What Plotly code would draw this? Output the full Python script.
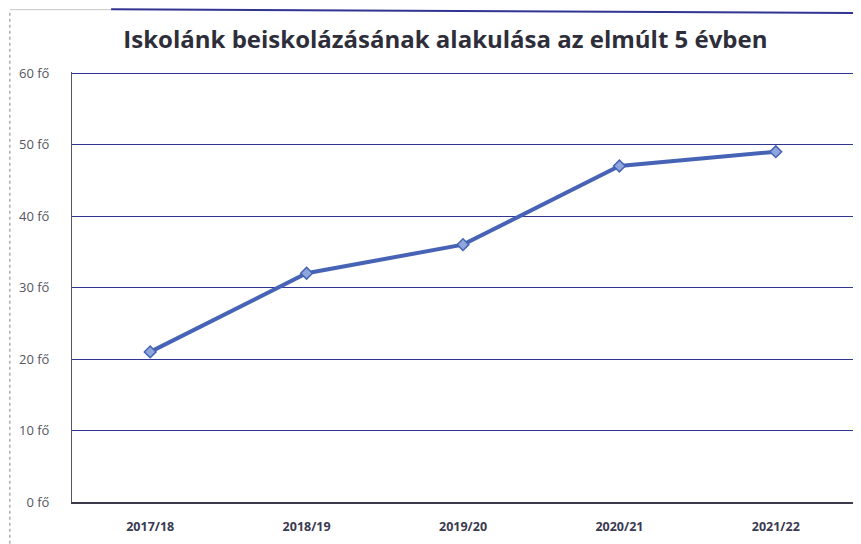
import plotly.graph_objects as go

categories = ["2017/18", "2018/19", "2019/20", "2020/21", "2021/22"]
values = [21, 32, 36, 47, 49]
y_ticks = [0, 10, 20, 30, 40, 50, 60]
y_tick_labels = [f"{v} fő" for v in y_ticks]
title_text = "Iskolánk beiskolázásának alakulása az elmúlt 5 évben"

fig = go.Figure()
fig.add_trace(go.Scatter(
    x=categories, y=values, mode="lines+markers",
    line=dict(color="#4763b5", width=4),
    marker=dict(symbol="diamond", size=9, color="#8fa6dc",
                line=dict(color="#4763b5", width=1.5)),
    showlegend=False,
))

fig.update_layout(
    width=861, height=544,
    margin=dict(l=64, r=15, t=64, b=50, autoexpand=False),
    paper_bgcolor="white", plot_bgcolor="white",
    title=dict(text=f"<b>{title_text}</b>", x=0.508, xanchor="center",
               y=0.941, yanchor="middle",
               font=dict(family="Open Sans", size=24, color="#2e2e3a")),
    xaxis=dict(type="category", range=[-0.5, 4.5], showgrid=False,
               automargin=False,
               showline=True, linecolor="#3a3a4a", linewidth=1.5,
               ticks="", ticklabelstandoff=12,
               tickfont=dict(family="Open Sans", size=12.5, color="#3a3a50",
                             weight="bold")),
    yaxis=dict(range=[0, 60.15], tickvals=y_ticks, ticktext=y_tick_labels,
               automargin=False,
               showgrid=True, gridcolor="#2f3590", gridwidth=1.4,
               showline=True, linecolor="#55556a", linewidth=1,
               zeroline=False, ticks="", ticklabelstandoff=19,
               tickfont=dict(family="Open Sans", size=13, color="#55555f")),
)

# outer chart frame (left and top edges visible in the scan)
fig.add_shape(type="line", xref="paper", yref="paper", x0=-0.0795, x1=-0.0795,
              y0=-0.097, y1=1.145, line=dict(color="#9a9a9a", width=1.2, dash="dot"))
fig.add_shape(type="line", xref="paper", yref="paper", x0=-0.0795, x1=0.05,
              y0=1.145, y1=1.145, line=dict(color="#c8c8c8", width=1))
fig.add_shape(type="line", xref="paper", yref="paper", x0=0.05, x1=1.01,
              y0=1.146, y1=1.137, line=dict(color="#2f3590", width=2))

fig.write_html("out.html")
